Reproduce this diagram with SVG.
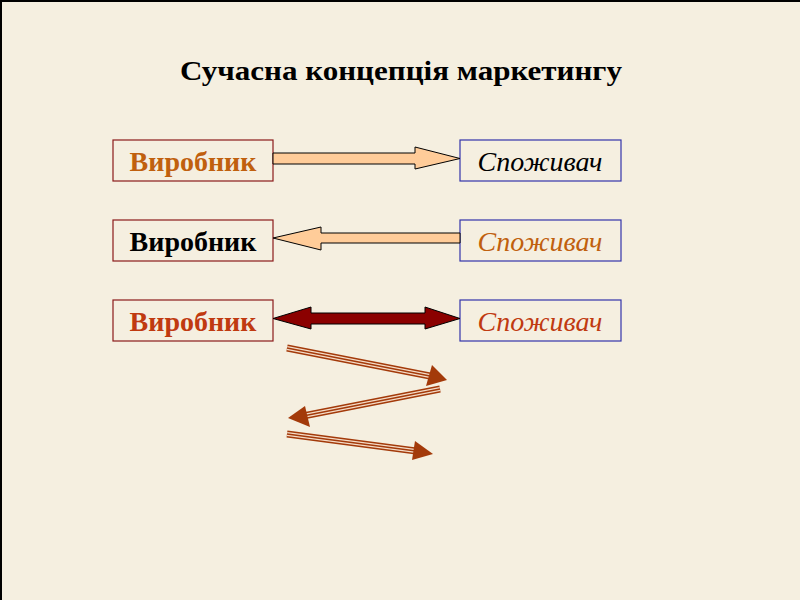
<svg xmlns="http://www.w3.org/2000/svg" width="800" height="600" viewBox="0 0 800 600">
<style>
.bg{fill:#F5EFE0}
.lbox{fill:#F5EFE0;stroke:#8B1A1A;stroke-width:1.2}
.rbox{fill:#F5EFE0;stroke:#3333AA;stroke-width:1.2}
.t{font-family:"Liberation Serif","Times New Roman",serif;font-size:28px;text-anchor:middle}
.b{font-weight:bold}
.i{font-style:italic}
.peach{fill:#FFCC99;stroke:#000;stroke-width:1}
.dark{fill:#8B0000;stroke:#000;stroke-width:1}
.zo{stroke:#A33A0A;stroke-width:7;fill:none}
.zi{stroke:#F5DCC8;stroke-width:4.2;fill:none}
.zc{stroke:#A33A0A;stroke-width:1.6;fill:none}
.zh{fill:#A33A0A}
</style>
<rect class="bg" x="0" y="0" width="800" height="600"/>
<path d="M1 600V1H800" stroke="#000" stroke-width="2" fill="none"/>
<text class="t b" x="401" y="80" textLength="442" lengthAdjust="spacingAndGlyphs">Сучасна концепція маркетингу</text>
<g id="producer1"><rect class="lbox" x="113" y="140" width="160" height="41"/><text class="t b" x="193" y="171" fill="#C0600E">Виробник</text></g>
<g id="consumer1"><rect class="rbox" x="460" y="140" width="161" height="41"/><text class="t i" x="540" y="171" fill="#000">Споживач</text></g>
<g id="producer2"><rect class="lbox" x="113" y="220" width="160" height="41"/><text class="t b" x="193" y="251" fill="#000">Виробник</text></g>
<g id="consumer2"><rect class="rbox" x="460" y="220" width="161" height="41"/><text class="t i" x="540" y="251" fill="#C0600E">Споживач</text></g>
<g id="producer3"><rect class="lbox" x="113" y="300" width="160" height="41"/><text class="t b" x="193" y="331" fill="#C03A10">Виробник</text></g>
<g id="consumer3"><rect class="rbox" x="460" y="300" width="161" height="41"/><text class="t i" x="540" y="331" fill="#C03A10">Споживач</text></g>
<g id="connectors">
<polygon class="peach" points="273,153 415,153 415,147 460,158.5 415,169 415,164 273,164"/>
<polygon class="peach" points="460,233 321,233 321,227 273,238 321,250 321,243 460,243"/>
<polygon class="dark" points="273,318.5 311,307 311,313 425,313 425,307 460,318.5 425,329 425,324 311,324 311,329"/>
<g id="zig1"><path class="zo" d="M287,348 L430,376"/><path class="zi" d="M287,348 L430,376"/><path class="zc" d="M287,348 L430,376"/><polygon class="zh" points="432,365 447,380 426,386"/></g>
<g id="zig2"><path class="zo" d="M440,389 L303,416"/><path class="zi" d="M440,389 L303,416"/><path class="zc" d="M440,389 L303,416"/><polygon class="zh" points="305,406 288,418 310,427"/></g>
<g id="zig3"><path class="zo" d="M287,434 L416,451"/><path class="zi" d="M287,434 L416,451"/><path class="zc" d="M287,434 L416,451"/><polygon class="zh" points="415,441 433,454 412,460"/></g>
</g>
</svg>
